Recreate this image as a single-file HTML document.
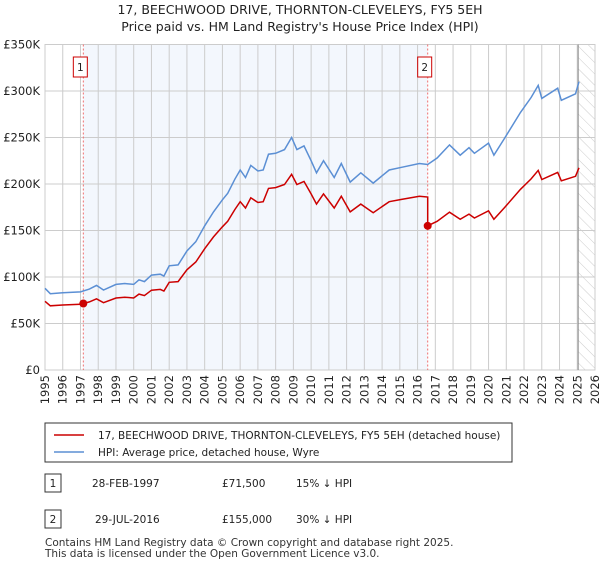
<!DOCTYPE html>
<html><head><meta charset="utf-8"><style>
body{margin:0;background:#fff;font-family:"Liberation Sans","DejaVu Sans",sans-serif;}
svg text{font-family:"DejaVu Sans","Liberation Sans",sans-serif;}
</style></head><body>
<svg id="c" width="600" height="560" xmlns="http://www.w3.org/2000/svg">
<defs><pattern id="hatch" width="8" height="8" patternUnits="userSpaceOnUse" patternTransform="rotate(-45)"><line x1="0" y1="0" x2="0" y2="8" stroke="#ccc" stroke-width="1"/></pattern></defs>
<text x="300" y="14" text-anchor="middle" font-size="12.5" fill="#222">17, BEECHWOOD DRIVE, THORNTON-CLEVELEYS, FY5 5EH</text>
<text x="300" y="31" text-anchor="middle" font-size="12.5" fill="#222">Price paid vs. HM Land Registry's House Price Index (HPI)</text>
<g id="plot"></g>
<rect x="45" y="423" width="467" height="39" fill="#fff" stroke="#333" stroke-width="1"/>
<line x1="54" y1="435" x2="84" y2="435" stroke="#cc0000" stroke-width="1.5"/>
<text x="98" y="439" font-size="10.5" fill="#222">17, BEECHWOOD DRIVE, THORNTON-CLEVELEYS, FY5 5EH (detached house)</text>
<line x1="54" y1="452" x2="84" y2="452" stroke="#5b8fd4" stroke-width="1.5"/>
<text x="98" y="456" font-size="10.5" fill="#222">HPI: Average price, detached house, Wyre</text>
<rect x="45" y="474" width="16" height="18" fill="#fff" stroke="#333"/>
<text x="53" y="487" text-anchor="middle" font-size="10.5" fill="#222">1</text>
<text x="92" y="487" font-size="10.5" fill="#222">28-FEB-1997</text>
<text x="222" y="487" font-size="10.5" fill="#222">£71,500</text>
<text x="296" y="487" font-size="10.5" fill="#222">15% ↓ HPI</text>
<rect x="45" y="510" width="16" height="18" fill="#fff" stroke="#333"/>
<text x="53" y="523" text-anchor="middle" font-size="10.5" fill="#222">2</text>
<text x="95" y="523" font-size="10.5" fill="#222">29-JUL-2016</text>
<text x="222" y="523" font-size="10.5" fill="#222">£155,000</text>
<text x="296" y="523" font-size="10.5" fill="#222">30% ↓ HPI</text>
<text x="45" y="546" font-size="10.5" fill="#333">Contains HM Land Registry data © Crown copyright and database right 2025.</text>
<text x="45" y="557" font-size="10.5" fill="#333">This data is licensed under the Open Government Licence v3.0.</text>
</svg>
<script>
const yTicks=[0,50,100,150,200,250,300,350];
const yTickLabels=["£0","£50K","£100K","£150K","£200K","£250K","£300K","£350K"];
const xYears=[1995,1996,1997,1998,1999,2000,2001,2002,2003,2004,2005,2006,2007,2008,2009,2010,2011,2012,2013,2014,2015,2016,2017,2018,2019,2020,2021,2022,2023,2024,2025,2026];
const hpiT=[1995.0,1995.3,1996,1997,1997.5,1997.9,1998.3,1999,1999.5,2000,2000.3,2000.6,2001,2001.5,2001.7,2002,2002.5,2003,2003.5,2004,2004.5,2005,2005.3,2005.7,2006,2006.3,2006.6,2007,2007.3,2007.6,2008,2008.5,2008.9,2009.2,2009.6,2010,2010.3,2010.7,2011.3,2011.7,2012.2,2012.8,2013.5,2014.4,2015.1,2016.1,2016.57,2017.1,2017.8,2018.4,2018.9,2019.2,2020.0,2020.3,2020.9,2021.8,2022.4,2022.8,2023.0,2023.9,2024.1,2024.9,2025.1];
const hpiV=[87.8,82,83,84,87,91,86,92,93,92,97,95,102,103,101,112,113,128,138,155,170,183,190,205,215,207,220,214,215,232,233,237,250,237,241,225,212,225,207,222,202,212,201,215,218,222,221,228,242,231,239,233,244,231,249,277,293,306,292,303,290,297,310];
const saleT=[1997.16,2016.57];
const saleV=[71.5,155];
const NS="http://www.w3.org/2000/svg";
const L=45,R=595,T=44.5,B=370;
const xs=t=>L+(t-1995)/(2026-1995)*(R-L);
const ys=v=>B-v/350*(B-T);
const g=document.getElementById('plot');
function mk(tag,at){const e=document.createElementNS(NS,tag);for(const k in at)e.setAttribute(k,at[k]);g.appendChild(e);return e;}
function interp(t){for(let i=0;i<hpiT.length-1;i++){if(t>=hpiT[i]&&t<=hpiT[i+1]){return hpiV[i]+(hpiV[i+1]-hpiV[i])*(t-hpiT[i])/(hpiT[i+1]-hpiT[i]);}}return hpiV[hpiV.length-1];}
let sh=mk('rect',{x:xs(saleT[0]),y:T,width:xs(saleT[1])-xs(saleT[0]),height:B-T,fill:'#eef3fc',opacity:0.7});

let ht=mk('rect',{x:xs(2025.05),y:T,width:R-xs(2025.05),height:B-T,fill:'url(#hatch)'});

yTicks.forEach((v,i)=>{let l=mk('line',{x1:L,x2:R,y1:ys(v),y2:ys(v),stroke:'#ccc'});

let t=mk('text',{x:40,y:ys(v)+4,'text-anchor':'end','font-size':11.5,fill:'#222'});t.textContent=yTickLabels[i];
});
xYears.forEach(y=>{let l=mk('line',{x1:xs(y),x2:xs(y),y1:T,y2:B,stroke:'#ccc'});

let t=mk('text',{x:0,y:0,'text-anchor':'end','font-size':11.5,fill:'#222',transform:`translate(${xs(y)+4},375) rotate(-90)`});t.textContent=y;
});
let fr=mk('rect',{x:L,y:T,width:R-L,height:B-T,fill:'none',stroke:'#ccc'});

let nl=mk('line',{x1:xs(2025.05),x2:xs(2025.05),y1:T,y2:B,stroke:'#888','stroke-width':1});

saleT.forEach((s,i)=>{let l=mk('line',{x1:xs(s),x2:xs(s),y1:T,y2:B,stroke:'#f07070','stroke-dasharray':'2,2'});

let r=mk('rect',{x:xs(s)-10,y:57,width:14,height:20,fill:'#fff',stroke:'#cc0000'});

let t=mk('text',{x:xs(s)-3,y:71,'text-anchor':'middle','font-size':10.5,fill:'#222'});t.textContent=i+1;
});
let hp=hpiT.map((t,i)=>xs(t).toFixed(1)+','+ys(hpiV[i]).toFixed(1)).join(' ');
let hl=mk('polyline',{points:hp,fill:'none',stroke:'#5b8fd4','stroke-width':1.5});

// red series: HPI scaled by each sale's ratio
const r1=saleV[0]/interp(saleT[0]),r2=saleV[1]/interp(saleT[1]);
let pts=[];
hpiT.forEach((t,i)=>{if(t<saleT[1])pts.push([t,hpiV[i]*r1]);});
pts.push([saleT[1],interp(saleT[1])*r1]);pts.push([saleT[1],saleV[1]]);
hpiT.forEach((t,i)=>{if(t>saleT[1])pts.push([t,hpiV[i]*r2]);});
let rl=mk('polyline',{points:pts.map(p=>xs(p[0]).toFixed(1)+','+ys(p[1]).toFixed(1)).join(' '),fill:'none',stroke:'#cc0000','stroke-width':1.5});

saleT.forEach((s,i)=>{let c=mk('circle',{cx:xs(s),cy:ys(saleV[i]),r:4,fill:'#cc0000'});
});
</script>
</body></html>
